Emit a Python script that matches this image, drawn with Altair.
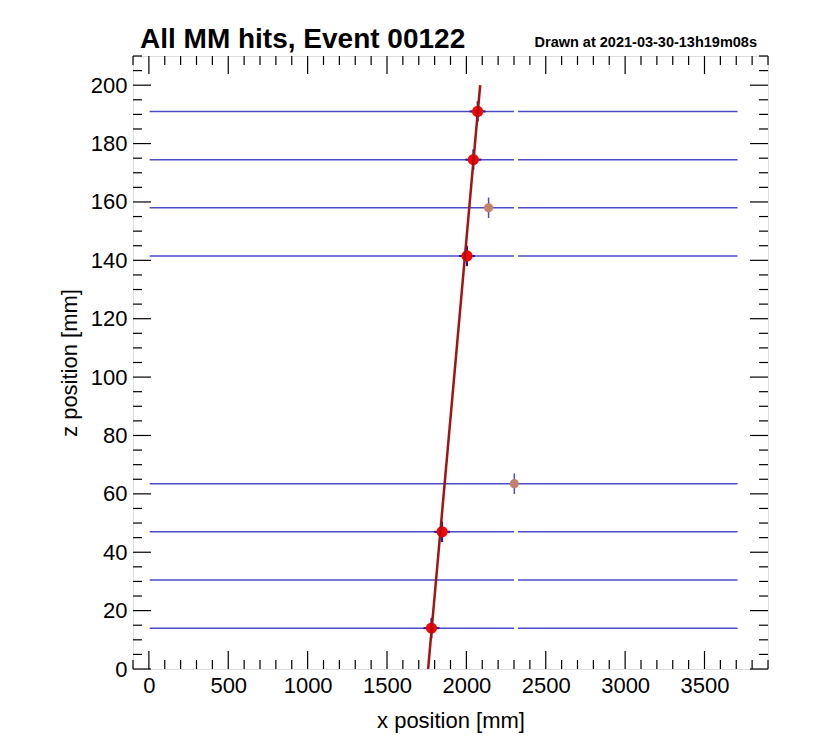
import altair as alt
import pandas as pd

# ---- data ----
layer_z = [14, 30.5, 47, 63.5, 141.5, 158, 174.5, 191]
seg_start = [5, 2325]
seg_end = [2300, 3708]

hit_x = [1780, 1847, 2004, 2044, 2071]
hit_z = [14, 47, 141.5, 174.5, 191]
hit_ex = [50, 50, 50, 50, 50]
hit_ez = [3.5, 3.5, 3.5, 3.5, 3.5]

off_x = [2140, 2302]
off_z = [158, 63.5]
off_ez = [3.5, 3.5]

fit_x = [1759, 2087]
fit_z = [0, 200]

x_major = [0, 500, 1000, 1500, 2000, 2500, 3000, 3500]
y_major = [0, 20, 40, 60, 80, 100, 120, 140, 160, 180, 200]
x_minor = [v for v in range(-100, 3901, 100) if v not in x_major]
y_minor = [v for v in range(0, 211, 5) if v not in y_major]

title_text = "All MM hits, Event 00122"
drawn_text = "Drawn at 2021-03-30-13h19m08s"

W, H = 635, 613
FONT = "Liberation Sans"

strips = pd.DataFrame([
    {"z": z, "x0": s, "x1": e} for z in layer_z for s, e in zip(seg_start, seg_end)
])
hits = pd.DataFrame({"x": hit_x, "z": hit_z,
                     "xlo": [a - b for a, b in zip(hit_x, hit_ex)],
                     "xhi": [a + b for a, b in zip(hit_x, hit_ex)],
                     "zlo": [a - b for a, b in zip(hit_z, hit_ez)],
                     "zhi": [a + b for a, b in zip(hit_z, hit_ez)]})
offs = pd.DataFrame({"x": off_x, "z": off_z,
                     "zlo": [a - b for a, b in zip(off_z, off_ez)],
                     "zhi": [a + b for a, b in zip(off_z, off_ez)]})
fit = pd.DataFrame({"x": fit_x, "z": fit_z})

xs = alt.Scale(domain=[-100, 3900], nice=False, zero=False)
ys = alt.Scale(domain=[0, 210], nice=False, zero=False)

xax = alt.Axis(values=x_major, format="d", ticks=False, domain=False, grid=False,
               labelFontSize=22, labelFont=FONT, labelColor="black", labelPadding=6,
               title="x position [mm]", titleFont=FONT, titleFontSize=22,
               titleFontWeight="normal", titleColor="black", titlePadding=14)
yax = alt.Axis(values=y_major, format="d", ticks=False, domain=False, grid=False,
               labelFontSize=22, labelFont=FONT, labelColor="black", labelPadding=6,
               title="z position [mm]", titleFont=FONT, titleFontSize=22,
               titleFontWeight="normal", titleColor="black", titlePadding=9)

base_strips = alt.Chart(strips).mark_rule(color="#4b4bc8", strokeWidth=1.5).encode(
    x=alt.X("x0:Q", scale=xs, axis=xax),
    x2="x1:Q",
    y=alt.Y("z:Q", scale=ys, axis=yax),
)

hit_ebz = alt.Chart(hits).mark_rule(color="#1a1a9a", strokeWidth=2).encode(
    x=alt.X("x:Q", scale=xs), y=alt.Y("zlo:Q", scale=ys), y2="zhi:Q")
hit_ebx = alt.Chart(hits).mark_rule(color="#1a1a9a", strokeWidth=2).encode(
    x=alt.X("xlo:Q", scale=xs), x2="xhi:Q", y=alt.Y("z:Q", scale=ys))
off_ebz = alt.Chart(offs).mark_rule(color="#4b4bc8", strokeWidth=1.5).encode(
    x=alt.X("x:Q", scale=xs), y=alt.Y("zlo:Q", scale=ys), y2="zhi:Q")

off_pts = alt.Chart(offs).mark_point(filled=True, shape="circle", size=85,
                                     color="#c4826e", opacity=1).encode(
    x=alt.X("x:Q", scale=xs), y=alt.Y("z:Q", scale=ys))
hit_pts = alt.Chart(hits).mark_point(filled=True, shape="circle", size=125,
                                     color="#ff0000", opacity=1).encode(
    x=alt.X("x:Q", scale=xs), y=alt.Y("z:Q", scale=ys))

fit_line = alt.Chart(fit).mark_line(color="#a01414", strokeWidth=2.5).encode(
    x=alt.X("x:Q", scale=xs), y=alt.Y("z:Q", scale=ys), order="z:Q")

def xticks(vals, length):
    df = pd.DataFrame({"v": vals})
    b = alt.Chart(df).mark_rule(color="black", strokeWidth=1.2)
    return (b.encode(x=alt.X("v:Q", scale=xs), y=alt.value(H), y2=alt.value(H - length)) +
            b.encode(x=alt.X("v:Q", scale=xs), y=alt.value(0), y2=alt.value(length)))

def yticks(vals, length):
    df = pd.DataFrame({"v": vals})
    b = alt.Chart(df).mark_rule(color="black", strokeWidth=1.2)
    return (b.encode(y=alt.Y("v:Q", scale=ys), x=alt.value(0), x2=alt.value(length)) +
            b.encode(y=alt.Y("v:Q", scale=ys), x=alt.value(W), x2=alt.value(W - length)))

title_mark = alt.Chart(pd.DataFrame({"t": [title_text]})).mark_text(
    font=FONT, fontSize=28, fontWeight="bold", align="left", baseline="alphabetic",
    color="black").encode(x=alt.value(7), y=alt.value(-8), text="t:N")

drawn = alt.Chart(pd.DataFrame({"t": [drawn_text]})).mark_text(
    font=FONT, fontSize=14.5, fontWeight="bold", align="right", baseline="alphabetic",
    color="black").encode(x=alt.value(624), y=alt.value(-9), text="t:N")

chart = alt.layer(
    base_strips, hit_ebz, hit_ebx, off_ebz, off_pts, hit_pts, fit_line,
    xticks(x_major, 18), xticks(x_minor, 9), yticks(y_major, 18), yticks(y_minor, 9),
    title_mark, drawn,
).properties(
    width=W, height=H,
    autosize=alt.AutoSizeParams(type="none"),
    padding={"left": 133, "top": 56, "right": 59, "bottom": 67},
).configure_view(stroke="black", strokeWidth=1.5).configure(background="white")

chart.save("out.html", embed_options={"renderer": "svg", "actions": False})
